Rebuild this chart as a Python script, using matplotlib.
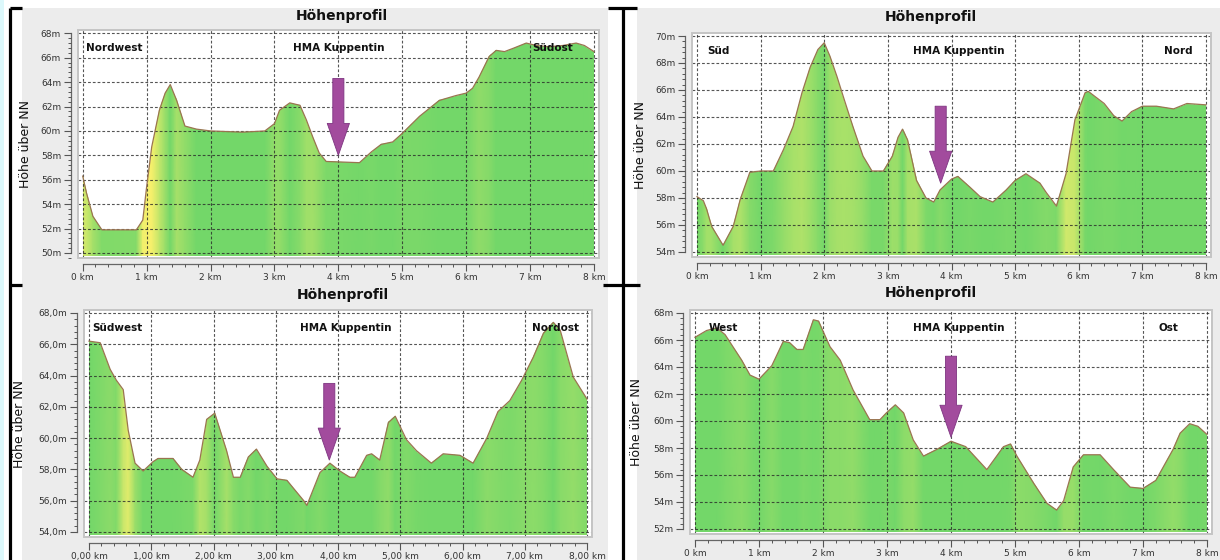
import numpy as np
import matplotlib
matplotlib.use("Agg")
import matplotlib.pyplot as plt
from matplotlib.colors import LinearSegmentedColormap
from matplotlib.patches import Rectangle, Polygon
from matplotlib.ticker import MultipleLocator, AutoMinorLocator, FuncFormatter

# --- profile data (km, m) ---
nw_km = [0.0, 0.06, 0.16, 0.3, 0.84, 0.94, 1.0, 1.08, 1.2, 1.29, 1.37, 1.47, 1.6, 1.78, 2.0, 2.5,
         2.85, 3.0, 3.08, 3.24, 3.4, 3.5, 3.6, 3.7, 3.81, 4.33, 4.52, 4.67, 4.85, 5.0, 5.27, 5.58,
         5.84, 6.0, 6.1, 6.2, 6.36, 6.47, 6.6, 6.75, 6.94, 7.1, 7.3, 7.51, 7.72, 7.85, 8.0]
nw_m = [56.3, 54.9, 53.0, 51.9, 51.9, 52.7, 55.4, 58.7, 61.7, 63.1, 63.8, 62.5, 60.4, 60.15, 60.0, 59.9,
        60.0, 60.6, 61.7, 62.3, 62.1, 60.9, 59.5, 58.2, 57.5, 57.4, 58.3, 58.9, 59.1, 59.8, 61.2, 62.5,
        62.9, 63.1, 63.5, 64.4, 66.1, 66.6, 66.5, 66.8, 67.2, 67.0, 66.9, 67.0, 67.2, 67.0, 66.5]

sn_km = [0.0, 0.1, 0.15, 0.23, 0.41, 0.57, 0.68, 0.83, 1.0, 1.2, 1.36, 1.51, 1.65, 1.78, 1.9, 2.0,
         2.09, 2.2, 2.3, 2.45, 2.61, 2.75, 2.93, 3.07, 3.16, 3.23, 3.31, 3.45, 3.6, 3.72, 3.82, 4.0,
         4.1, 4.29, 4.45, 4.65, 4.86, 5.0, 5.17, 5.39, 5.49, 5.65, 5.8, 5.94, 6.1, 6.15, 6.26, 6.4,
         6.55, 6.68, 6.83, 7.0, 7.22, 7.49, 7.7, 8.0]
sn_m = [58.1, 57.8, 57.2, 55.9, 54.5, 55.9, 57.9, 59.9, 60.0, 60.0, 61.6, 63.3, 65.8, 67.7, 69.0, 69.5,
        68.5, 67.0, 65.5, 63.3, 61.1, 60.0, 60.0, 61.1, 62.5, 63.1, 62.3, 59.3, 58.0, 57.7, 58.6, 59.4,
        59.6, 58.8, 58.1, 57.7, 58.6, 59.3, 59.8, 59.1, 58.4, 57.4, 59.8, 63.8, 65.8, 65.9, 65.5, 65.0,
        64.1, 63.7, 64.4, 64.8, 64.8, 64.6, 65.0, 64.9]

swno_km = [0.0, 0.18, 0.34, 0.44, 0.55, 0.63, 0.74, 0.87, 1.03, 1.11, 1.35, 1.49, 1.67, 1.78, 1.89, 2.02,
           2.21, 2.32, 2.43, 2.56, 2.69, 2.86, 3.02, 3.18, 3.45, 3.5, 3.71, 3.87, 4.03, 4.19, 4.27, 4.46,
           4.54, 4.67, 4.81, 4.92, 5.1, 5.26, 5.5, 5.69, 5.96, 6.17, 6.39, 6.57, 6.76, 6.95, 7.14, 7.3,
           7.46, 7.57, 7.78, 8.0]
swno_m = [66.2, 66.1, 64.4, 63.7, 63.1, 60.5, 58.4, 57.9, 58.5, 58.7, 58.7, 58.0, 57.5, 58.6, 61.2, 61.6,
          59.2, 57.5, 57.5, 58.8, 59.3, 58.2, 57.4, 57.3, 56.0, 55.7, 57.8, 58.4, 57.9, 57.5, 57.5, 58.9,
          59.0, 58.6, 61.0, 61.4, 59.9, 59.2, 58.4, 59.0, 58.9, 58.4, 60.0, 61.7, 62.4, 63.7, 65.2, 66.7,
          67.4, 66.9, 63.9, 62.5]

wo_km = [0.0, 0.18, 0.34, 0.47, 0.73, 0.86, 1.0, 1.2, 1.38, 1.48, 1.59, 1.69, 1.85, 1.93, 2.11, 2.27,
         2.47, 2.73, 2.89, 2.99, 3.13, 3.26, 3.41, 3.57, 3.78, 4.0, 4.23, 4.56, 4.82, 4.93, 5.03, 5.29,
         5.5, 5.65, 5.76, 5.91, 6.07, 6.33, 6.54, 6.8, 7.0, 7.2, 7.47, 7.58, 7.73, 7.86, 8.0]
wo_m = [66.2, 66.7, 66.9, 66.4, 64.5, 63.4, 63.1, 64.1, 65.9, 65.8, 65.3, 65.3, 67.5, 67.4, 65.5, 64.5,
        62.3, 60.1, 60.1, 60.6, 61.2, 60.6, 58.6, 57.4, 57.9, 58.5, 58.1, 56.4, 58.1, 58.3, 57.4, 55.4,
        53.9, 53.4, 54.1, 56.6, 57.5, 57.5, 56.4, 55.1, 55.0, 55.6, 57.9, 59.1, 59.8, 59.6, 59.0]

titles = ["Höhenprofil"] * 4
ends = [("Nordwest", "Südost"), ("Süd", "Nord"), ("Südwest", "Nordost"), ("West", "Ost")]
target = "HMA Kuppentin"
arrow_km = [4.0, 3.83, 3.86, 4.0]
arrow_top = [64.3, 64.8, 63.5, 64.8]
arrow_tip = [58.0, 59.1, 58.6, 58.8]
y_ranges = [(50, 68), (54, 70), (54, 68), (52, 68)]

W, H = 1220, 560
fig = plt.figure(figsize=(W / 100, H / 100), dpi=100)
fig.patch.set_facecolor("white")

# background layer in pixel coords
bg = fig.add_axes([0, 0, 1, 1], zorder=-10)
bg.set_xlim(0, W)
bg.set_ylim(H, 0)
bg.axis("off")
bg.add_patch(Rectangle((0, 0), 4, H, color="#dcf8fb", lw=0))
bg.add_patch(Rectangle((22, 8), 586, H - 8, color="#ececec", lw=0))
bg.add_patch(Rectangle((637, 8), W - 637, H - 8, color="#ececec", lw=0))
for xs, ys in [([10, 10], [8, H]), ([10, 22], [8, 8]), ([10, 22], [285, 285]),
               ([623, 623], [8, H]), ([608, 637], [8, 8]), ([603, 640], [285, 285])]:
    bg.plot(xs, ys, color="black", lw=2.3, solid_capstyle="butt")

cmap = LinearSegmentedColormap.from_list("terrain", ["#73d769", "#9fdf69", "#d2e96b", "#f6f06c"])

# pixel geometry of each plot: (x at 0 km, x at 8 km, y at ymax, y at ymin, ylabel x, title x, title y)
geo = [(82.7, 594, 33.3, 253, 32, 342, 16),
       (697, 1206, 36, 252, 647, 931, 17),
       (89, 587, 313, 532, 26, 343, 295),
       (695, 1207, 313, 529, 643, 931, 293)]
profiles = [(nw_km, nw_m), (sn_km, sn_m), (swno_km, swno_m), (wo_km, wo_m)]

for i, ((x0, x8, yt, yb, ylx, tx, ty), (km, m)) in enumerate(zip(geo, profiles)):
    ymin, ymax = y_ranges[i]
    padl, padr, padt, padb = 5, 5, 3, 5
    left, right = x0 - padl, x8 + padr
    top, bottom = yt - padt, yb + padb
    ax = fig.add_axes([left / W, 1 - bottom / H, (right - left) / W, (bottom - top) / H])
    ppk = (x8 - x0) / 8
    ppm = (yb - yt) / (ymax - ymin)
    ax.set_xlim(-padl / ppk, 8 + padr / ppk)
    ax.set_ylim(ymin - padb / ppm, ymax + padt / ppm)
    ax.set_facecolor("white")

    km = np.array(km)
    m = np.array(m)
    base = ymin - padb / ppm * 0.6
    # colour bands follow the steepness of the profile
    slope = np.abs(np.gradient(m, km))
    c = np.clip((slope - 3.0) / 30.0, 0, 1)
    X = np.vstack([km, km])
    Y = np.vstack([np.full_like(m, base), np.full_like(m, ymax + 2)])
    C = np.vstack([c, c])
    mesh = ax.pcolormesh(X, Y, C, cmap=cmap, vmin=0, vmax=1, shading="gouraud", zorder=1)
    poly = Polygon([(km[0], base)] + list(zip(km, m)) + [(km[-1], base)], closed=True,
                   fc="none", ec="none", transform=ax.transData)
    ax.add_patch(poly)
    mesh.set_clip_path(poly)
    ax.plot(km, m, color="#9a7450", lw=0.9, zorder=3)

    # grid and axes styling
    ax.xaxis.set_major_locator(MultipleLocator(1))
    ax.yaxis.set_major_locator(MultipleLocator(2))
    ax.xaxis.set_minor_locator(AutoMinorLocator(5))
    ax.yaxis.set_minor_locator(AutoMinorLocator(5))
    ax.set_axisbelow(False)
    ax.grid(True, which="major", color="#2a2a2a", lw=0.8, ls=(0, (2.5, 1.8)), alpha=0.8)
    if i == 2:
        ax.xaxis.set_major_formatter(FuncFormatter(lambda v, p: f"{v:.2f} km".replace(".", ",")))
        ax.yaxis.set_major_formatter(FuncFormatter(lambda v, p: f"{v:.1f}m".replace(".", ",")))
    else:
        ax.xaxis.set_major_formatter(FuncFormatter(lambda v, p: f"{v:.0f} km"))
        ax.yaxis.set_major_formatter(FuncFormatter(lambda v, p: f"{v:.0f}m"))
    for s in ["top", "right"]:
        ax.spines[s].set_visible(False)
    ax.spines["left"].set_position(("outward", 5))
    ax.spines["bottom"].set_position(("outward", 4))
    ax.spines["left"].set_bounds(ymin, ymax)
    ax.spines["bottom"].set_bounds(0, 8)
    for s in ["left", "bottom"]:
        ax.spines[s].set_color("#666666")
        ax.spines[s].set_linewidth(0.9)
    ax.tick_params(which="major", direction="out", length=5, width=0.8, color="#555555",
                   labelsize=6.5, labelcolor="#333333", pad=2)
    ax.tick_params(which="minor", direction="out", length=2.5, width=0.7, color="#555555")
    ax.add_patch(Rectangle((0, 0), 1, 1, transform=ax.transAxes, fill=False,
                           ec="#c4c4c4", lw=1.4, clip_on=False, zorder=4))

    ax.set_ylabel("Höhe über NN", fontsize=9, color="#111111")
    ax.yaxis.set_label_coords((ylx - left) / (right - left), 0.5)

    # labels inside the plot
    l_txt, r_txt = ends[i]
    lkw = dict(xycoords=("data", "axes fraction"), textcoords="offset points",
               va="center", fontsize=7.5, fontweight="bold", color="#111111", zorder=6)
    if i == 3:
        ax.annotate(l_txt, xy=(0.45, 1), xytext=(0, -13), ha="center", **lkw)
    else:
        ax.annotate(l_txt, xy=([0.05, 0.16, 0.06][i], 1), xytext=(0, -13), ha="left", **lkw)
    ax.annotate(r_txt, xy=([7.36, 7.57, 7.5, 7.39][i], 1), xytext=(0, -13), ha="center", **lkw)
    ax.annotate(target, xy=([4.0, 4.12, 4.12, 4.12][i], 1), xytext=(0, -13), ha="center", **lkw)

    ax.annotate("", xy=(arrow_km[i], arrow_tip[i]), xytext=(arrow_km[i], arrow_top[i]),
                arrowprops=dict(arrowstyle="simple,head_length=2.3,head_width=1.6,tail_width=0.8",
                                mutation_scale=10, fc="#a24b9d", ec="#7e3581", lw=0.6,
                                shrinkA=0, shrinkB=0), zorder=7)

    fig.text(tx / W, 1 - ty / H, titles[i], ha="center", va="center",
             fontsize=10, fontweight="bold", color="#111111")

fig.savefig("out.png", dpi=100)
